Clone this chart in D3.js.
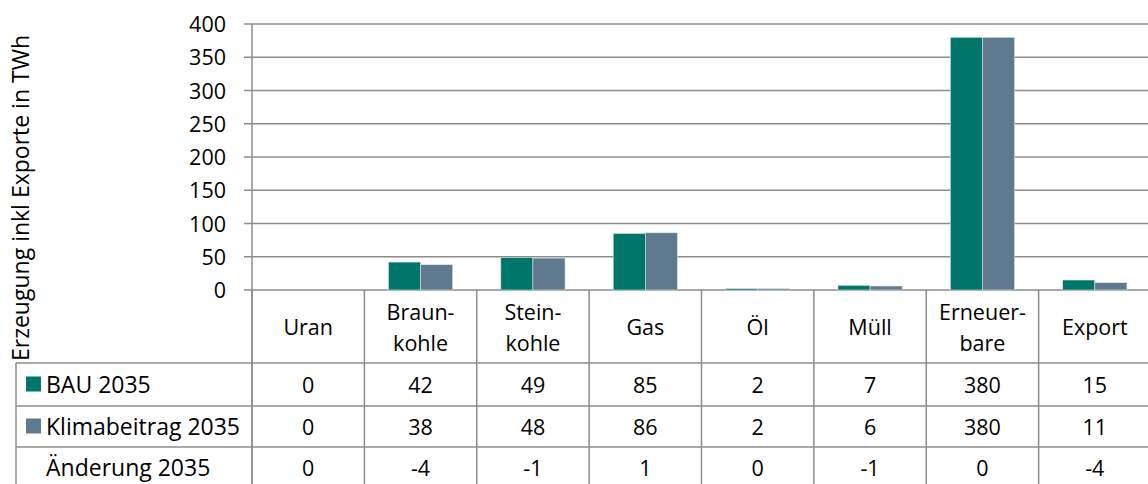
<!DOCTYPE html>
<html>
<head>
<meta charset="utf-8">
<script src="https://cdn.jsdelivr.net/npm/d3@7"></script>
<style>
  body { margin: 0; background: #fff; }
  text { font-family: "Open Sans", sans-serif; fill: #000; }
</style>
</head>
<body>
<svg width="1148" height="484"></svg>
<script>
var categories = [["Uran"], ["Braun-", "kohle"], ["Stein-", "kohle"], ["Gas"], ["Öl"], ["Müll"], ["Erneuer-", "bare"], ["Export"]]
var seriesNames = ["BAU 2035", "Klimabeitrag 2035"]
var bau2035 = [0, 42, 49, 85, 2, 7, 380, 15]
var klima2035 = [0, 38, 48, 86, 2, 6, 380, 11]
var aenderung2035 = [0, -4, -1, 1, 0, -1, 0, -4]
var yTicks = [0, 50, 100, 150, 200, 250, 300, 350, 400]
var colors = ["#00756a", "#5f7a8e"]

var svg = d3.select("svg")
var plotLeft = 252, plotRight = 1151, plotTop = 24, plotBottom = 290
var rowLines = [363, 406, 447, 489]
var grid = "#8c8c8c"
var fs = "21.5px"
var fsLabel = "23px"

var x = d3.scaleBand()
    .domain(d3.range(categories.length))
    .range([plotLeft, plotRight])
    .paddingInner(0).paddingOuter(0)
var xs = d3.scaleBand()
    .domain([0, 1])
    .range([0, x.bandwidth()])
    .paddingOuter(0.75).paddingInner(0)
var y = d3.scaleLinear().domain([0, 400]).range([plotBottom, plotTop])

// gridlines + y ticks
svg.append("g").selectAll("line")
    .data(yTicks).enter().append("line")
    .attr("x1", plotLeft - 8).attr("x2", plotRight)
    .attr("y1", d => y(d)).attr("y2", d => y(d))
    .style("stroke", grid).style("stroke-width", 1.5)
svg.append("g").selectAll("text")
    .data(yTicks).enter().append("text")
    .attr("x", 226).attr("y", d => y(d) + 8)
    .style("text-anchor", "end").style("font-size", fs)
    .text(d => d)

// axis line
svg.append("line").attr("x1", plotLeft).attr("x2", plotLeft).attr("y1", plotTop).attr("y2", 484)
    .style("stroke", grid).style("stroke-width", 1.5)

// bars
var series = [bau2035, klima2035]
series.forEach(function(vals, s) {
    svg.append("g").selectAll("rect")
        .data(vals).enter().append("rect")
        .attr("x", (d, i) => x(i) + xs(s))
        .attr("width", xs.bandwidth())
        .attr("y", d => y(d))
        .attr("height", d => y(0) - y(d))
        .style("fill", colors[s])
        .style("stroke", "#d8e4e4").style("stroke-width", 0.6)
})

// table lines
svg.append("g").selectAll("line")
    .data(d3.range(categories.length + 1)).enter().append("line")
    .attr("x1", i => plotLeft + i * x.bandwidth()).attr("x2", i => plotLeft + i * x.bandwidth())
    .attr("y1", plotBottom).attr("y2", 484)
    .style("stroke", grid).style("stroke-width", 1.5)
svg.append("g").selectAll("line")
    .data(rowLines).enter().append("line")
    .attr("x1", 16).attr("x2", plotRight)
    .attr("y1", d => d).attr("y2", d => d)
    .style("stroke", grid).style("stroke-width", 1.5)
svg.append("line").attr("x1", 16).attr("x2", 16).attr("y1", rowLines[0]).attr("y2", 484)
    .style("stroke", grid).style("stroke-width", 1.5)

// category labels
var cat = svg.append("g").selectAll("text")
    .data(categories).enter().append("text")
    .attr("x", (d, i) => x(i) + x.bandwidth() / 2)
    .attr("y", d => d.length == 1 ? 335 : 320)
    .style("text-anchor", "middle").style("font-size", fs)
cat.selectAll("tspan").data(d => d).enter().append("tspan")
    .attr("x", function() { return this.parentNode.getAttribute("x") })
    .attr("dy", (d, i) => i == 0 ? 0 : 31)
    .text(d => d)

// values rows
var rows = [bau2035, klima2035, aenderung2035]
var rowNames = seriesNames.concat(["Änderung 2035"])
rows.forEach(function(vals, r) {
    var mid = (rowLines[r] + rowLines[r + 1]) / 2
    svg.append("g").selectAll("text")
        .data(vals).enter().append("text")
        .attr("x", (d, i) => x(i) + x.bandwidth() / 2)
        .attr("y", mid + 8)
        .style("text-anchor", "middle").style("font-size", fs)
        .text(d => d)
    if (r < 2) {
        svg.append("rect").attr("x", 26).attr("y", mid - 8).attr("width", 15).attr("height", 15)
            .style("fill", colors[r])
    }
    svg.append("text").attr("x", 46).attr("y", mid + 8)
        .style("font-size", fsLabel).text(rowNames[r])
})

// y axis title
svg.append("text")
    .attr("transform", "translate(29,198) rotate(-90)")
    .style("text-anchor", "middle").style("font-size", fsLabel)
    .text("Erzeugung inkl Exporte in TWh")
</script>
</body>
</html>
